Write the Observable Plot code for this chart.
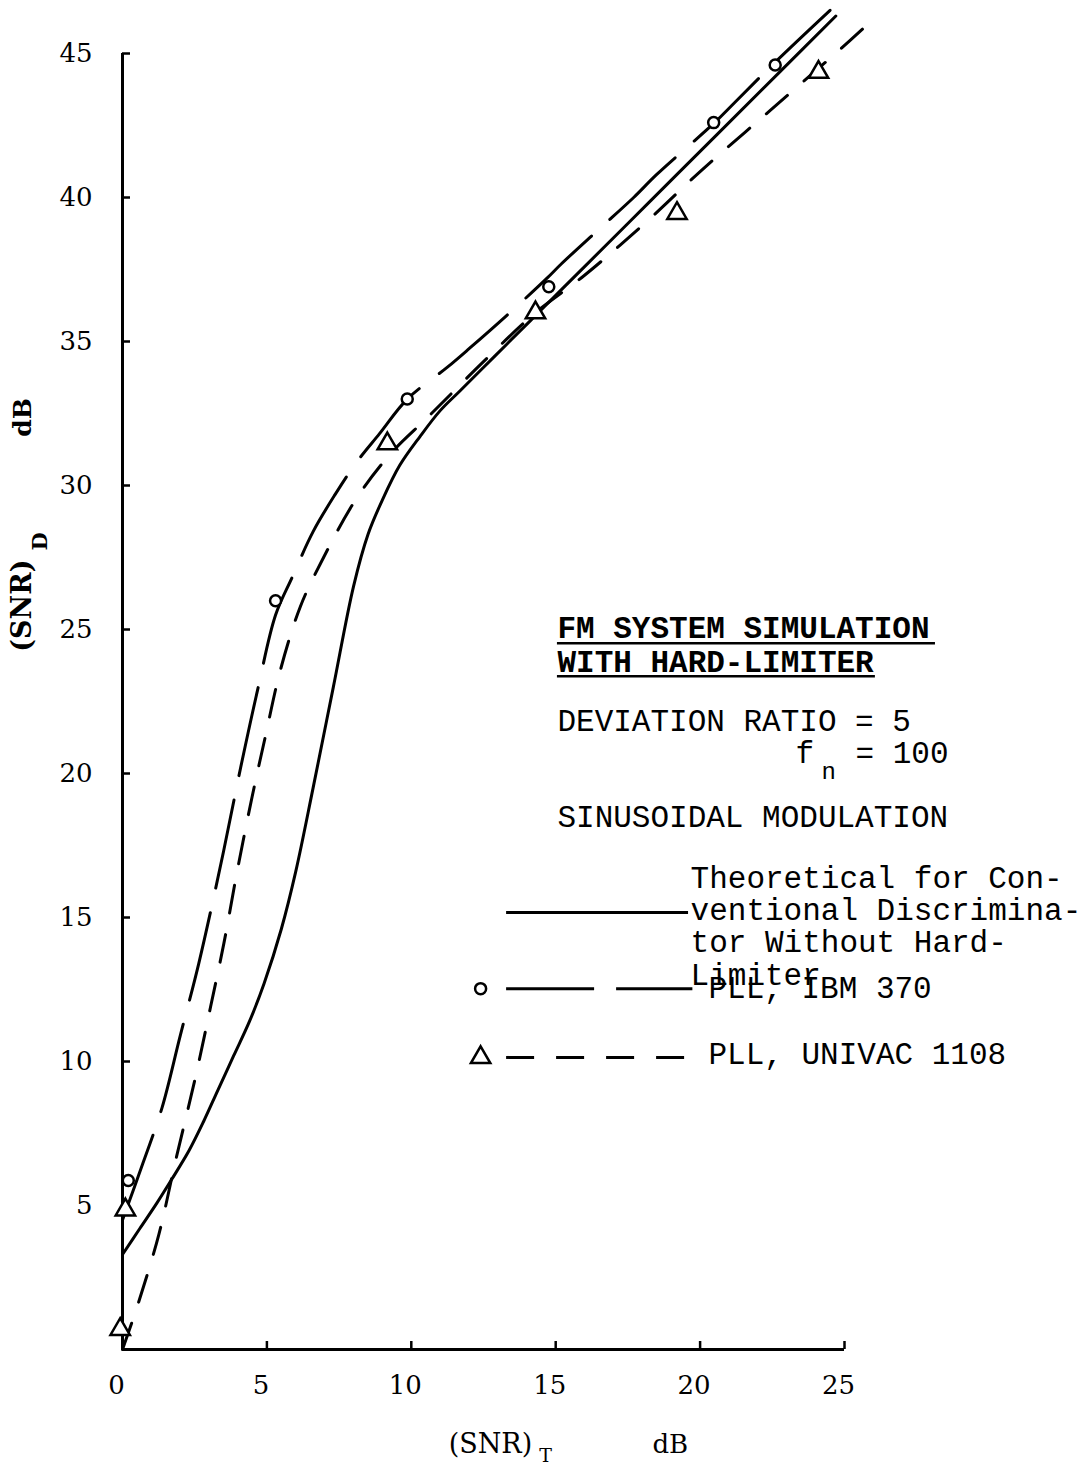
<!DOCTYPE html>
<html><head><meta charset="utf-8">
<script src="https://cdn.jsdelivr.net/npm/d3@7"></script>
<script src="https://cdn.jsdelivr.net/npm/@observablehq/plot@0.6"></script>
<style>
body{margin:0;background:#fff;}
#chart svg{display:block;}
</style></head><body><div id="chart"></div>
<script>
// ---- data ----
const xTicks = [0, 5, 10, 15, 20, 25];
const yTicks = [5, 10, 15, 20, 25, 30, 35, 40, 45];

// Theoretical for conventional discriminator without hard-limiter (solid)
const theoX = [0, 0.6, 1.2, 1.7, 2.3, 2.8, 3.3, 3.85, 4.4, 4.9, 5.5, 6.0, 6.6, 7.3, 8.0, 8.5, 9.0, 9.6, 10.3, 11.0, 11.7, 12.9, 14.1, 15.0, 16.0, 18.3, 20.6, 22.7, 24.7];
const theoY = [3.3, 4.2, 5.1, 5.9, 6.9, 7.9, 9.0, 10.2, 11.4, 12.7, 14.6, 16.6, 19.5, 23.0, 26.5, 28.3, 29.5, 30.7, 31.7, 32.6, 33.3, 34.5, 35.7, 36.6, 37.6, 39.9, 42.2, 44.3, 46.3];

// PLL, IBM 370 (long dash + circles)
const ibmX = [0, 0.7, 1.37, 2.0, 2.64, 3.5, 4.09, 4.7, 5.3, 5.87, 6.6, 7.37, 8.1, 8.9, 9.86, 11.24, 12.0, 13.3, 14.7, 15.2, 16.5, 17.7, 18.5, 20.5, 21.2, 22.6, 24.5];
const ibmY = [4.5, 6.45, 8.4, 10.9, 13.4, 17.3, 20.2, 23.0, 25.5, 26.8, 28.4, 29.7, 30.8, 31.8, 33.0, 34.1, 34.75, 35.9, 37.2, 37.7, 38.9, 40.0, 40.8, 42.6, 43.3, 44.7, 46.5];
const ibmPtsX = [0.2, 5.3, 9.86, 14.76, 20.47, 22.6];
const ibmPtsY = [5.87, 26.0, 33.0, 36.9, 42.6, 44.6];

// PLL, UNIVAC 1108 (short dash + triangles)
const univX = [0, 0.56, 1.26, 1.84, 2.53, 3.05, 3.51, 3.97, 4.49, 4.95, 5.47, 6.16, 6.86, 8.07, 9.28, 10.6, 12.5, 14.3, 16.0, 18.3, 20.0, 22.4, 24.8, 25.9];
const univY = [0, 1.65, 4.0, 6.56, 9.47, 11.9, 14.1, 16.6, 19.2, 21.3, 23.6, 25.8, 27.3, 29.5, 31.1, 32.4, 34.3, 36.0, 37.3, 39.3, 40.9, 43.0, 45.1, 46.1];
const univPtsX = [-0.08, 0.1, 9.17, 14.3, 19.2, 24.1];
const univPtsY = [0.7, 4.85, 31.45, 36.0, 39.45, 44.35];

// texts
const titleLines = ["FM SYSTEM SIMULATION", "WITH HARD-LIMITER"];
const devText = "DEVIATION RATIO = 5";
const modText = "SINUSOIDAL MODULATION";
const legendLabels = ["Theoretical for Con-\nventional Discrimina-\ntor Without Hard-\nLimiter", "PLL, IBM 370", "PLL, UNIVAC 1108"];

// ---- styling ----
const serif = "DejaVu Serif";
const mono = "Liberation Mono";
const ibmDash = "90,25";
const univDash = "28,22";
const LW = 3;

const seq = (xs, ys) => xs.map((x, i) => ({x, y: ys[i]}));

// legend geometry (data units)
const legX1 = 13.3, legX2 = 19.75, legSym = 12.4;
const legRows = [15.17, 12.53, 10.14];
const legTextX = 20.29;

const plot = Plot.plot({
  width: 1092, height: 1471,
  marginLeft: 122, marginRight: 248, marginTop: 53, marginBottom: 122,
  x: {domain: [0, 25], label: null},
  y: {domain: [0, 45], label: null},
  style: {background: "white", color: "black", overflow: "visible"},
  marks: [
    // axes
    Plot.ruleX([0], {y1: 0, y2: 45, strokeWidth: LW}),
    Plot.ruleY([0], {x1: 0, x2: 25, strokeWidth: LW}),
    Plot.axisY(yTicks, {tickSize: -8, fill: "none", strokeWidth: 2.5, label: null}),
    Plot.axisY(yTicks, {tickSize: 0, tickPadding: 30, fontSize: 26, fontFamily: serif, label: null}),
    Plot.axisX(xTicks.slice(1), {tickSize: -8, fill: "none", strokeWidth: 2.5, label: null}),
    Plot.axisX(xTicks, {tickSize: 0, tickPadding: 26, dx: -6, fontSize: 26, fontFamily: serif, label: null}),

    // axis titles
    Plot.text(["(SNR)"], {x: 12.74, y: -3.61, lineAnchor: "bottom", fontSize: 27, fontFamily: serif}),
    Plot.text(["T"], {x: 14.65, y: -3.92, lineAnchor: "bottom", fontSize: 19, fontFamily: serif}),
    Plot.text(["dB"], {x: 18.97, y: -3.61, lineAnchor: "bottom", fontSize: 26, fontFamily: serif}),
    Plot.text(["(SNR)"], {x: -3.46, y: 25.83, rotate: -90, lineAnchor: "middle", fontSize: 27, fontWeight: "bold", fontFamily: serif}),
    Plot.text(["D"], {x: -2.84, y: 28.06, rotate: -90, lineAnchor: "middle", fontSize: 21, fontWeight: "bold", fontFamily: serif}),
    Plot.text(["dB"], {x: -3.46, y: 32.36, rotate: -90, lineAnchor: "middle", fontSize: 25, fontWeight: "bold", fontFamily: serif}),

    // data lines
    Plot.line(seq(theoX, theoY), {x: "x", y: "y", curve: "catmull-rom", strokeWidth: LW}),
    Plot.line(seq(ibmX, ibmY), {x: "x", y: "y", curve: "catmull-rom", strokeWidth: LW, strokeDasharray: ibmDash}),
    Plot.line(seq(univX, univY), {x: "x", y: "y", curve: "catmull-rom", strokeWidth: LW, strokeDasharray: univDash}),
    Plot.dot(seq(ibmPtsX, ibmPtsY), {x: "x", y: "y", r: 5.5, fill: "white", stroke: "black", strokeWidth: 2.5}),
    Plot.dot(seq(univPtsX, univPtsY), {x: "x", y: "y", r: 7.2, symbol: "triangle", fill: "white", stroke: "black", strokeWidth: 2.5}),

    // annotation block
    Plot.text([titleLines[0]], {x: 15.06, y: 24.69, textAnchor: "start", lineAnchor: "bottom", fontSize: 31, fontWeight: "bold", fontFamily: mono}),
    Plot.ruleY([24.52], {x1: 15.06, x2: 28.15, strokeWidth: 2.5}),
    Plot.text([titleLines[1]], {x: 15.06, y: 23.51, textAnchor: "start", lineAnchor: "bottom", fontSize: 31, fontWeight: "bold", fontFamily: mono}),
    Plot.ruleY([23.38], {x1: 15.06, x2: 26.07, strokeWidth: 2.5}),
    Plot.text([devText], {x: 15.06, y: 21.49, textAnchor: "start", lineAnchor: "bottom", fontSize: 31, fontFamily: mono}),
    Plot.text(["f"], {x: 23.3, y: 20.35, textAnchor: "start", lineAnchor: "bottom", fontSize: 31, fontFamily: mono}),
    Plot.text(["n"], {x: 24.2, y: 19.8, textAnchor: "start", lineAnchor: "bottom", fontSize: 24, fontFamily: mono}),
    Plot.text(["= 100"], {x: 25.38, y: 20.35, textAnchor: "start", lineAnchor: "bottom", fontSize: 31, fontFamily: mono}),
    Plot.text([modText], {x: 15.06, y: 18.13, textAnchor: "start", lineAnchor: "bottom", fontSize: 31, fontFamily: mono}),

    // legend
    Plot.ruleY([legRows[0]], {x1: legX1, x2: 19.6, strokeWidth: LW}),
    Plot.ruleY([legRows[1]], {x1: legX1, x2: legX2, strokeWidth: LW, strokeDasharray: "88,22"}),
    Plot.ruleY([legRows[2]], {x1: legX1, x2: legX2, strokeWidth: LW, strokeDasharray: univDash}),
    Plot.dot([legRows[1]], {x: legSym, y: d => d, r: 5.5, fill: "white", stroke: "black", strokeWidth: 2.5}),
    Plot.dot([legRows[2]], {x: legSym, y: d => d, r: 7.2, symbol: "triangle", fill: "white", stroke: "black", strokeWidth: 2.5}),
    Plot.text([legendLabels[0]], {x: 19.67, y: 16.82, textAnchor: "start", lineAnchor: "top", lineHeight: 1.04, fontSize: 31, fontFamily: mono}),
    Plot.text([legendLabels[1]], {x: legTextX, y: 12.22, textAnchor: "start", lineAnchor: "bottom", fontSize: 31, fontFamily: mono}),
    Plot.text([legendLabels[2]], {x: legTextX, y: 9.93, textAnchor: "start", lineAnchor: "bottom", fontSize: 31, fontFamily: mono})
  ]
});
document.getElementById("chart").appendChild(plot);
</script>
</body></html>
